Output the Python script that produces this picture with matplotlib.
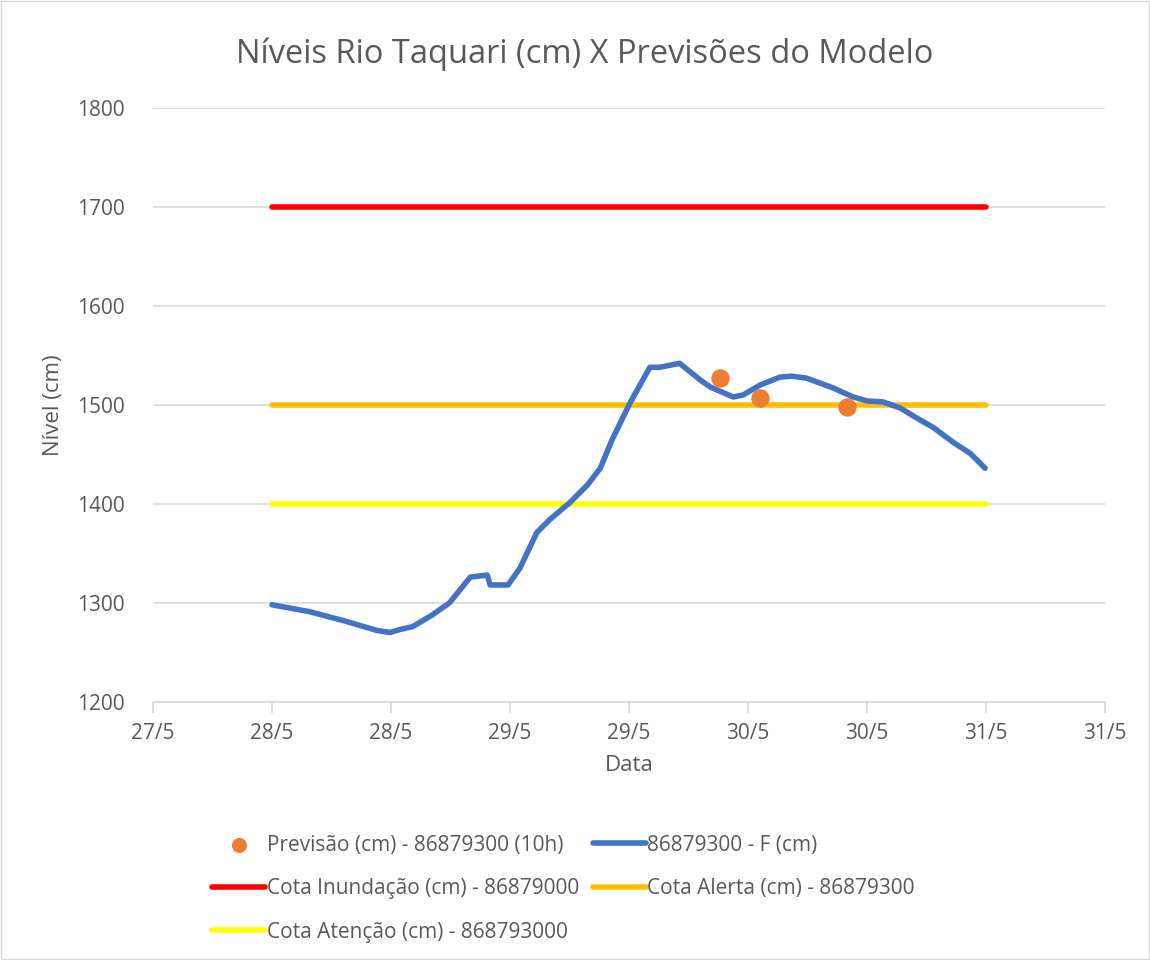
#Níveis Rio Taquari x previsões do modelo

import numpy as np
import matplotlib.pyplot as plt
from matplotlib.patches import Rectangle

#Série observada (horas desde o início, nível em cm)
horas = [0, 3.8, 7.2, 10.6, 11.9, 12.9, 14.2, 16.2, 17.9, 20.0, 21.7, 22.0, 23.8,
         25.0, 26.7, 28.0, 30.0, 31.8, 33.1, 34.3, 36.1, 38.1, 39.1, 41.1, 43.2,
         44.2, 46.5, 47.5, 49.2, 51.2, 52.4, 53.9, 56.6, 58.6, 60.0, 61.6, 63.3,
         65.3, 66.7, 68.7, 70.4, 71.9]
nivel = [1298, 1291, 1282, 1272, 1270, 1273, 1276, 1288, 1300, 1326, 1328, 1318, 1318,
         1335, 1371, 1384, 1401, 1419, 1436, 1465, 1502, 1538, 1538, 1542, 1525,
         1518, 1508, 1510, 1520, 1528, 1529, 1527, 1517, 1508, 1504, 1503, 1497,
         1485, 1477, 1462, 1451, 1436]

#Previsões do modelo
horas_prev = [45.2, 49.2, 58.0]
nivel_prev = [1527, 1507, 1498]

#Cotas
cotas_x = [0, 72]
cota_inundacao = 1700
cota_alerta = 1500
cota_atencao = 1400

#Eixo x
ticks_x = [-12, 0, 12, 24, 36, 48, 60, 72, 84]
ticks_lbl = ['27/5', '28/5', '28/5', '29/5', '29/5', '30/5', '30/5', '31/5', '31/5']

cinza = '#595959'
plt.rcParams['font.family'] = ['Open Sans', 'DejaVu Sans']

fig = plt.figure(figsize=(11.5, 9.6), dpi=100)
ax = fig.add_axes([0.133, 0.269, 0.828, 0.6185])

ax.grid(axis='y', color='#D9D9D9', linewidth=1.2)
ax.set_axisbelow(True)

l_inund, = ax.plot(cotas_x, [cota_inundacao]*2, color='#FF0000', lw=4, solid_capstyle='round')
l_alerta, = ax.plot(cotas_x, [cota_alerta]*2, color='#FFC000', lw=4, solid_capstyle='round')
l_atenc, = ax.plot(cotas_x, [cota_atencao]*2, color='#FFFF00', lw=4, solid_capstyle='round')
l_obs, = ax.plot(horas, nivel, color='#4472C4', lw=4, solid_capstyle='round', zorder=3)
p_prev = ax.scatter(horas_prev, nivel_prev, s=150, color='#ED7D31', zorder=4)

ax.set_xlim(-12, 84)
ax.set_ylim(1200, 1800)
ax.set_yticks(np.arange(1200, 1801, 100))
ax.set_xticks(ticks_x)
ax.set_xticklabels(ticks_lbl)

for s in ['top', 'right', 'left']:
    ax.spines[s].set_visible(False)
ax.spines['bottom'].set_color('#D9D9D9')
ax.spines['bottom'].set_linewidth(1.2)
ax.tick_params(axis='x', colors='#D9D9D9', length=8, width=1.2, labelcolor=cinza,
               labelsize=15, pad=7)
ax.tick_params(axis='y', length=0, labelcolor=cinza, labelsize=15, pad=20)

ax.set_xlabel('Data', color=cinza, fontsize=16, labelpad=8)
ax.set_ylabel('Nível (cm)', color=cinza, fontsize=16, labelpad=10)

fig.text(0.508, 0.943, 'Níveis Rio Taquari (cm) X Previsões do Modelo', ha='center',
         va='center', fontsize=23.5, color=cinza)

handles = [p_prev, l_inund, l_atenc, l_obs, l_alerta]
labels = ['Previsão (cm) - 86879300 (10h)', 'Cota Inundação (cm) - 86879000',
          'Cota Atenção (cm) - 868793000', '86879300 - F (cm)',
          'Cota Alerta (cm) - 86879300']
leg = fig.legend(handles, labels, ncol=2, loc='upper left', bbox_to_anchor=(0.168, 0.15),
                 bbox_transform=fig.transFigure, frameon=False, fontsize=15,
                 handlelength=2.55, handletextpad=0.08, columnspacing=0.65,
                 labelspacing=1.08, labelcolor=cinza, borderpad=0.4, markerscale=0.8)

fig.patches.append(Rectangle((0.001, 0.001), 0.998, 0.998, transform=fig.transFigure,
                             fill=False, edgecolor='#D9D9D9', lw=1))

plt.savefig('out.png', dpi=100)
